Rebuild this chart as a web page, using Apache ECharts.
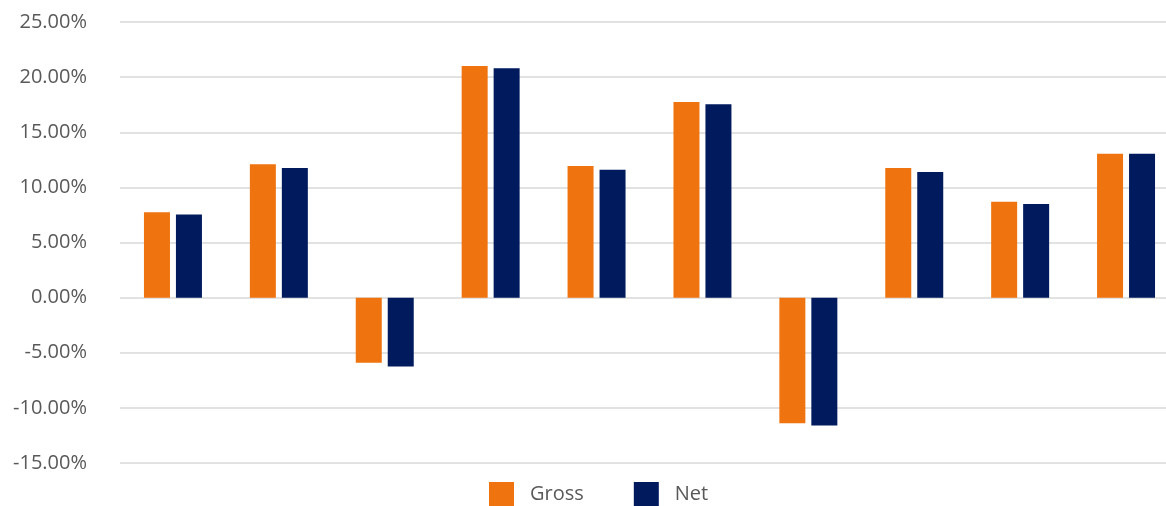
<!DOCTYPE html>
<html>
<head>
<meta charset="utf-8">
<style>
  html, body { margin: 0; padding: 0; background: #ffffff; overflow: hidden; width: 1166px; height: 506px; }
  /* the drawing area is a little wider than the window; its right end is cut off */
  #chart { width: 1179px; height: 506px; }
</style>
<script src="https://cdn.jsdelivr.net/npm/echarts@6/dist/echarts.min.js"></script>
</head>
<body>
<div id="chart"></div>
<script>
// Period returns, in percent
const categories = ['1', '2', '3', '4', '5', '6', '7', '8', '9', '10'];
const grossValues = [7.75, 12.1, -5.9, 21.0, 11.95, 17.75, -11.4, 11.75, 8.7, 13.05];
const netValues   = [7.55, 11.75, -6.25, 20.8, 11.6, 17.55, -11.6, 11.4, 8.5, 13.05];
const seriesNames = ['Gross', 'Net'];

const yMin = -15, yMax = 25, yStep = 5;

const chart = echarts.init(document.getElementById('chart'), null, { renderer: 'canvas' });

const textColor = '#595959';
const fontFamily = '"Open Sans", "Noto Sans", sans-serif';

chart.setOption({
  animation: false,
  backgroundColor: '#ffffff',
  grid: { left: 120, right: 0, top: 22, bottom: 43, containLabel: false },
  legend: {
    data: seriesNames,
    left: 489,
    top: 482,
    padding: 0,
    itemWidth: 25,
    itemHeight: 24,
    itemGap: 50,
    icon: 'rect',
    textStyle: { color: textColor, fontSize: 20, fontFamily: fontFamily, padding: [2, 0, 0, 11] }
  },
  xAxis: {
    type: 'category',
    data: categories,
    axisLine: { show: false },
    axisTick: { show: false },
    axisLabel: { show: false },
    splitLine: { show: false }
  },
  yAxis: {
    type: 'value',
    min: yMin,
    max: yMax,
    interval: yStep,
    axisLine: { show: false },
    axisTick: { show: false },
    axisLabel: {
      color: textColor,
      fontSize: 20,
      fontFamily: fontFamily,
      margin: 33,
      formatter: v => v.toFixed(2) + '%'
    },
    splitLine: { lineStyle: { color: '#d9d9d9', width: 1.5 } }
  },
  series: [
    {
      name: seriesNames[0],
      type: 'bar',
      data: grossValues,
      barWidth: 26,
      barGap: '23%',
      itemStyle: { color: '#ef730f' }
    },
    {
      name: seriesNames[1],
      type: 'bar',
      data: netValues,
      barWidth: 26,
      barGap: '23%',
      itemStyle: { color: '#001a5e' }
    }
  ]
});
</script>
</body>
</html>
